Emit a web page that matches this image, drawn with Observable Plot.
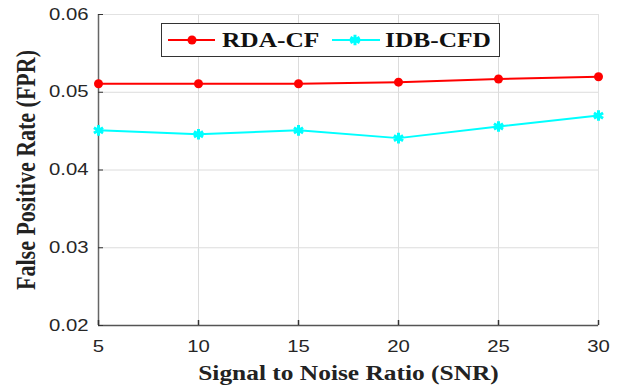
<!DOCTYPE html>
<html>
<head>
<meta charset="utf-8">
<script src="https://cdn.jsdelivr.net/npm/d3@7"></script>
<script src="https://cdn.jsdelivr.net/npm/@observablehq/plot@0.6"></script>
<style>
  html, body { margin: 0; padding: 0; background: #fff; }
  #wrap { position: relative; width: 624px; height: 388px; }
  #legend { position: absolute; left: 0; top: 0; }
</style>
</head>
<body>
<div id="wrap"></div>
<script>
const snr = [5, 10, 15, 20, 25, 30];
const rdaCF = [0.0511, 0.0511, 0.0511, 0.0513, 0.0517, 0.0520];
const idbCFD = [0.0451, 0.0446, 0.0451, 0.0441, 0.0456, 0.0470];
const yTicks = [0.02, 0.03, 0.04, 0.05, 0.06];
const xTicks = [5, 10, 15, 20, 25, 30];
const seriesNames = ["RDA-CF", "IDB-CFD"];
const seriesColors = ["#ff0000", "#00ffff"];

const STRETCH = 1.27;
const serif = "'Liberation Serif', 'Times New Roman', serif";

const rows = [];
snr.forEach((s, i) => {
  rows.push({snr: s, fpr: rdaCF[i], series: seriesNames[0]});
  rows.push({snr: s, fpr: idbCFD[i], series: seriesNames[1]});
});
const rda = rows.filter(d => d.series === seriesNames[0]);
const idb = rows.filter(d => d.series === seriesNames[1]);

const chart = Plot.plot({
  width: 624,
  height: 388,
  marginLeft: 98,
  marginRight: 26,
  marginTop: 14,
  marginBottom: 63,
  style: {fontFamily: "'Liberation Sans', Arial, sans-serif", fontSize: "16px", color: "#262626", background: "#fff"},
  x: {domain: [5, 30], ticks: xTicks},
  y: {domain: [0.02, 0.06], ticks: yTicks},
  marks: [
    Plot.gridX(xTicks, {stroke: "#dcdcdc", strokeOpacity: 1, strokeWidth: 1}),
    Plot.gridY(yTicks, {stroke: "#dcdcdc", strokeOpacity: 1, strokeWidth: 1}),
    Plot.frame({stroke: "#e2e2e2"}),
    Plot.ruleX([5], {stroke: "#666", strokeWidth: 1.5}),
    Plot.ruleY([0.02], {stroke: "#555", strokeWidth: 1.5}),
    Plot.axisX(xTicks, {tickSize: -5, tickPadding: 20, stroke: "#333", strokeWidth: 1.5, label: null, fontSize: 16, fill: "#262626", tickFormat: d => String(d)}),
    Plot.axisY(yTicks, {tickSize: -5, tickPadding: 15, stroke: "#333", strokeWidth: 1, label: null, fontSize: 16, fill: "#262626", tickFormat: d3.format(".2f")}),
    Plot.text(["Signal to Noise Ratio (SNR)"], {frameAnchor: "bottom", dy: 54, fontFamily: serif, fontWeight: "bold", fontSize: 20, fill: "#222"}),
    Plot.text(["False Positive Rate (FPR)"], {frameAnchor: "left", textAnchor: "middle", dx: -72, rotate: -90, fontFamily: serif, fontWeight: "bold", fontSize: 22, fill: "#222"}),
    Plot.line(rda, {x: "snr", y: "fpr", stroke: seriesColors[0], strokeWidth: 2}),
    Plot.line(idb, {x: "snr", y: "fpr", stroke: seriesColors[1], strokeWidth: 2}),
    Plot.dot(rda, {x: "snr", y: "fpr", r: 4.5, fill: seriesColors[0], stroke: null}),
    Plot.dot(idb, {x: "snr", y: "fpr", symbol: "asterisk", r: 5, stroke: seriesColors[1], strokeWidth: 3})
  ]
});

// horizontal stretch of all texts, as in the reference image
d3.select(chart).selectAll("text").each(function() {
  const t = this.getAttribute("transform") || "";
  const s = t.includes("rotate") ? ` scale(1,${STRETCH})` : ` scale(${STRETCH},1)`;
  this.setAttribute("transform", t + s);
});

const wrap = document.getElementById("wrap");
wrap.appendChild(chart);

// legend overlay
const lg = d3.create("svg").attr("id", "legend").attr("width", 624).attr("height", 388)
  .style("position", "absolute").style("left", "0px").style("top", "0px");
lg.append("rect").attr("x", 161.5).attr("y", 23.5).attr("width", 338).attr("height", 33)
  .attr("fill", "#fff").attr("stroke", "#333").attr("stroke-width", 1);
const items = [
  {x1: 168, x2: 215, mx: 192, tx: 222},
  {x1: 332, x2: 380, mx: 355, tx: 385}
];
items.forEach((it, i) => {
  lg.append("line").attr("x1", it.x1).attr("x2", it.x2).attr("y1", 40).attr("y2", 40)
    .attr("stroke", seriesColors[i]).attr("stroke-width", 2);
  if (i === 0) {
    lg.append("circle").attr("cx", it.mx).attr("cy", 40).attr("r", 4.5).attr("fill", seriesColors[i]);
  } else {
    lg.append("path").attr("transform", `translate(${it.mx},40)`)
      .attr("d", d3.symbol(d3.symbolAsterisk, 80)())
      .attr("stroke", seriesColors[i]).attr("stroke-width", 3).attr("fill", "none");
  }
  lg.append("text").attr("transform", `translate(${it.tx},47) scale(${STRETCH},1)`)
    .attr("font-family", serif).attr("font-weight", "bold").attr("font-size", 20)
    .attr("fill", "#111").text(seriesNames[i]);
});
wrap.appendChild(lg.node());
</script>
</body>
</html>
